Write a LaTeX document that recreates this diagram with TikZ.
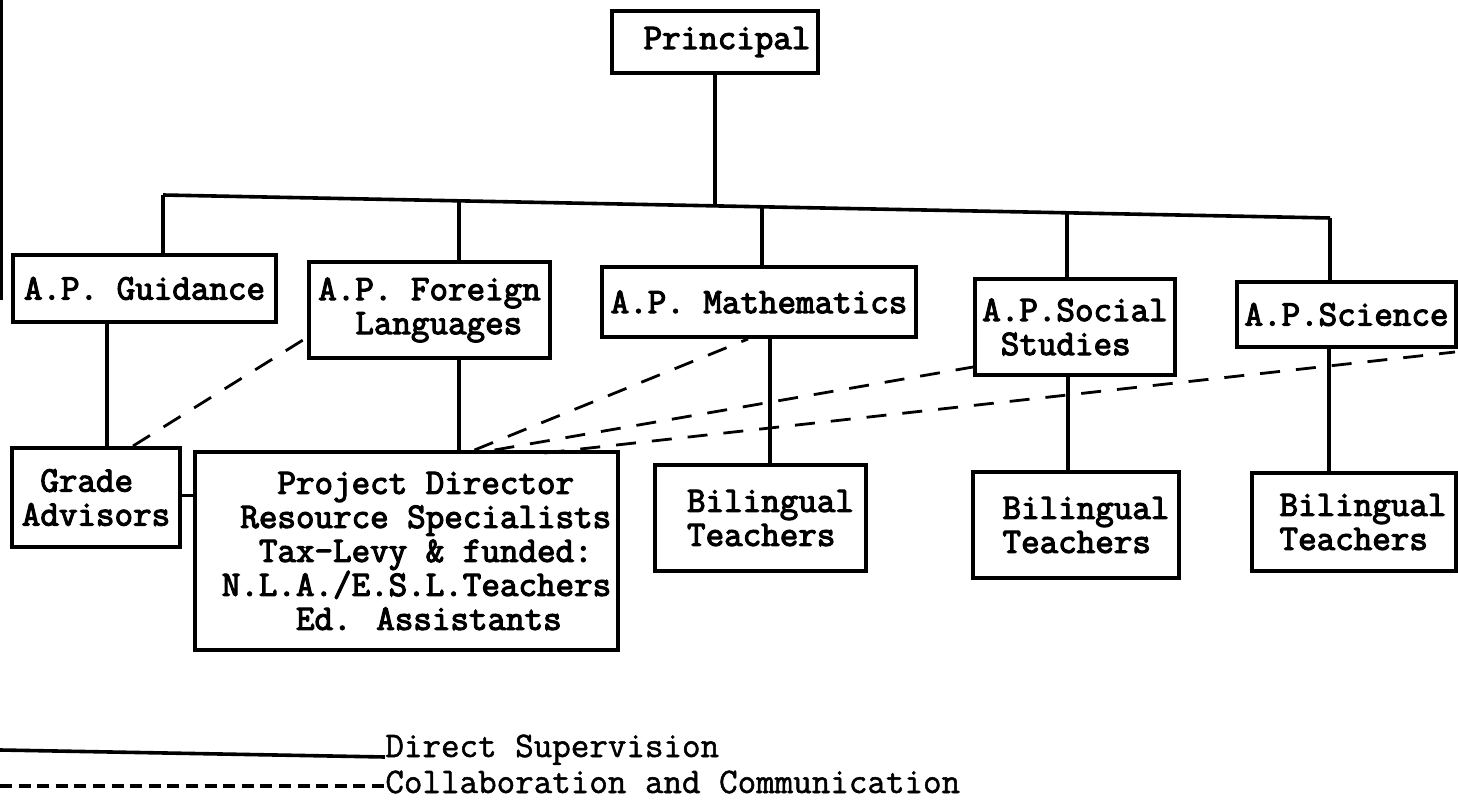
\documentclass[tikz,border=0pt]{standalone}
\usepackage{fontspec}
\newfontfamily\courb{Latin Modern Mono}[FakeBold=3.2]
\newfontfamily\courl{Latin Modern Mono}[FakeBold=1.4]
\usetikzlibrary{calc}
\begin{document}
\begin{tikzpicture}[x=0.5pt,y=-0.5pt,
  box/.style={draw, line width=2pt, inner sep=0pt, align=center,
    font=\courb\fontsize{18}{17}\selectfont},
  sz/.style 2 args={minimum width={#1*0.5pt}, minimum height={#2*0.5pt}},
  sup/.style={line width=1.8pt},
  collab/.style={line width=1.4pt, dash pattern=on 10pt off 8pt},
  legtext/.style={inner sep=0pt, font=\courl\fontsize{18}{17}\selectfont},
  legdash/.style={line width=1.8pt, dash pattern=on 6pt off 3.3pt},
]
\useasboundingbox (0,0) rectangle (1458,802);
% scan border at left
\draw[line width=1.5pt] (1,0) -- (1,300);

% boxes
\node[box, sz={206}{62}] (prin) at (715,42) {\hspace*{12pt}Principal};
\node[box, sz={263}{67}] (guid) at (144.5,288.5) {A.P. Guidance};
\node[box, sz={241}{96}, align=left] (forl) at (429.5,310) {A.P. Foreign\\\phantom{xx}Languages};
\node[box, sz={314}{70}] (math) at (759,302) {A.P. Mathematics};
\node[box, sz={200}{96}, align=left] (soc) at (1075,327) {A.P.Social\\\phantom{x}Studies};
\node[box, sz={219}{65}] (sci) at (1346.5,314.5) {A.P.Science};
\node[box, sz={168}{99}, align=left] (grade) at (96,497.5) {\phantom{x}Grade\\Advisors};
\node[box, sz={423}{198}, align=left] (proj) at (406.5,551) {\hspace*{10pt}\phantom{xxx}Project Director\\\hspace*{10pt}\phantom{x}Resource Specialists\\\hspace*{10pt}\phantom{xx}Tax-Levy \& funded:\\\hspace*{10pt}N.L.A./E.S.L.Teachers\\\hspace*{10pt}\phantom{xxxx}Ed. Assistants};
\node[box, sz={211}{106}, align=left] (mbil) at (760.5,518) {\hspace*{10pt}Bilingual\\\hspace*{10pt}Teachers};
\node[box, sz={206}{106}, align=left] (sbil) at (1076,525) {\hspace*{10pt}Bilingual\\\hspace*{10pt}Teachers};
\node[box, sz={204}{98}, align=left] (cbil) at (1354,522) {\hspace*{9pt}Bilingual\\\hspace*{9pt}Teachers};

% bus
\coordinate (b1) at (163,195);
\coordinate (b2) at (459,200.8);
\coordinate (bp) at (715,206);
\coordinate (b3) at (762,206.8);
\coordinate (b4) at (1067,212.8);
\coordinate (b5) at (1330,218);
\draw[sup] (b1) -- (b5);
\draw[sup] (prin.south) -- (bp);
\draw[sup] (b1) -- (b1 |- guid.north);
\draw[sup] (b2) -- (b2 |- forl.north);
\draw[sup] (b3) -- (b3 |- math.north);
\draw[sup] (b4) -- (b4 |- soc.north);
\draw[sup] (b5) -- (b5 |- sci.north);

% lower verticals
\coordinate (x1) at (107,0);
\coordinate (x2) at (459,0);
\coordinate (x3) at (770,0);
\coordinate (x4) at (1068,0);
\coordinate (x5) at (1329,0);
\draw[sup] (x1 |- guid.south) -- (x1 |- grade.north);
\draw[sup] (x2 |- forl.south) -- (x2 |- proj.north);
\draw[sup] (x3 |- math.south) -- (x3 |- mbil.north);
\draw[sup] (x4 |- soc.south) -- (x4 |- sbil.north);
\draw[sup] (x5 |- sci.south) -- (x5 |- cbil.north);

% collaboration lines
\draw[collab] ($(grade.north)+(37,0)$) -- ($(forl.south west)+(-4,-20)$);
\draw[collab] ($(grade.east)+(0,-2)$) -- ($(grade.east -| proj.west)+(0,-2)$);
\draw[collab] ($(proj.north)+(68,0)$) -- ($(math.south)+(-11,0)$);
\draw[collab] ($(proj.north)+(88,0)$) -- ($(soc.south west)+(0,-10)$);
\draw[collab] ($(proj.north)+(138,3)$) -- ($(sci.south east)+(-3,3)$);

% legend
\node[legtext, anchor=base west] (dsup) at (385,757) {Direct Supervision};
\node[legtext, anchor=base west] (coll) at (385,793) {Collaboration and Communication};
\coordinate (ls) at (0,750);
\coordinate (lc) at (0,786);
\draw[sup] (ls) -- (dsup.base west);
\draw[legdash] (lc) -- (lc -| coll.west);
\end{tikzpicture}
\end{document}
